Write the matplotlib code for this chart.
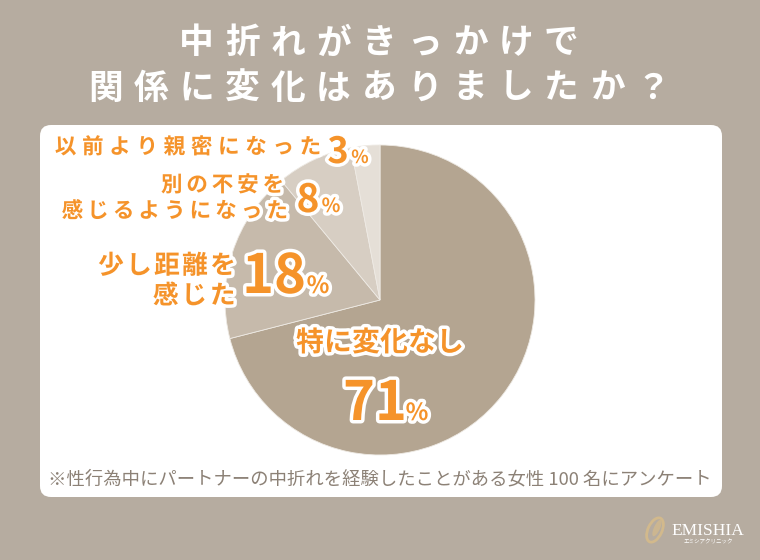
import matplotlib
matplotlib.use('Agg')
import matplotlib.pyplot as plt
import matplotlib.patheffects as pe
from matplotlib.patches import FancyBboxPatch, Ellipse

plt.rcParams['font.family'] = ['Noto Sans CJK JP', 'DejaVu Sans']

# Data
title_lines = ['中折れがきっかけで', '関係に変化はありましたか？']
categories = ['特に変化なし', '少し距離を感じた', '別の不安を感じるようになった', '以前より親密になった']
values = [71, 18, 8, 3]
slice_colors = ['#b4a591', '#c6baab', '#d7cec3', '#e5dfd7']
note = '※性行為中にパートナーの中折れを経験したことがある女性 100 名にアンケート'

BG = '#b6aca0'
ORANGE = '#f5932a'
W, H = 760, 560

fig = plt.figure(figsize=(7.6, 5.6), dpi=100)
fig.patch.set_facecolor(BG)
ax = fig.add_axes([0, 0, 1, 1])
ax.set_axis_off()


def Y(py):
    return H - py


def spaced(text, x_left, y, pitch, **kw):
    for i, ch in enumerate(text):
        ax.text(x_left + pitch / 2 + i * pitch, Y(y), ch, ha='center', va='center', **kw)


outline = [pe.withStroke(linewidth=5, foreground='white')]

# white panel
ax.add_patch(FancyBboxPatch((40, Y(497)), 682, 372, boxstyle='round,pad=0,rounding_size=11',
                            facecolor='white', edgecolor='none', zorder=0))

# pie
ax.pie(values, colors=slice_colors, startangle=90, counterclock=False,
       center=(380, Y(300)), radius=155,
       wedgeprops=dict(linewidth=0.6, edgecolor='#eeeae4'))
ax.set_xlim(0, W)
ax.set_ylim(0, H)
ax.set_aspect('auto')

# title
pitch_t = 45.6
for line, yy in zip(title_lines, [43, 88]):
    n = len(line)
    spaced(line, 379 - n * pitch_t / 2, yy, pitch_t, color='white', fontsize=25, fontweight='bold')

lab_kw = dict(color=ORANGE, fontweight='bold', path_effects=outline)

# label: 以前より親密になった 3%
spaced(categories[3], 324 - 10 * 27.2, 147, 27.2, fontsize=15.5, **lab_kw)
ax.text(338, Y(163), f'{values[3]}', ha='center', va='baseline', fontsize=26, **lab_kw)
ax.text(360, Y(163), '%', ha='center', va='baseline', fontsize=13, **lab_kw)

# label: 別の不安を感じるようになった 8%
spaced('別の不安を', 286 - 5 * 25.4, 185, 25.4, fontsize=15.5, **lab_kw)
spaced('感じるようになった', 290 - 9 * 25.6, 211, 25.6, fontsize=15.5, **lab_kw)
ax.text(308, Y(212), f'{values[2]}', ha='center', va='baseline', fontsize=28, **lab_kw)
ax.text(331, Y(212), '%', ha='center', va='baseline', fontsize=14, **lab_kw)

# label: 少し距離を感じた 18%
spaced('少し距離を', 237 - 5 * 28, 266, 28, fontsize=18.5, **lab_kw)
spaced('感じた', 237 - 3 * 28.5, 296, 28.5, fontsize=18.5, **lab_kw)
ax.text(274, Y(293), f'{values[1]}', ha='center', va='baseline', fontsize=39, **lab_kw)
ax.text(318, Y(293), '%', ha='center', va='baseline', fontsize=17, **lab_kw)

# label: 特に変化なし 71%
spaced(categories[0], 380 - 6 * 28 / 2, 343, 28, fontsize=20, **lab_kw)
ax.text(375, Y(420), f'{values[0]}', ha='center', va='baseline', fontsize=39, **lab_kw)
ax.text(417, Y(420), '%', ha='center', va='baseline', fontsize=17, **lab_kw)

# footnote
ax.text(380, Y(479), note, ha='center', va='center', fontsize=13.2, color='#8c8176')

# logo
ax.add_patch(Ellipse((655, Y(530)), 14, 26, angle=-25, facecolor='none', edgecolor='#d2b98c', linewidth=2))
ax.add_patch(Ellipse((657, Y(528)), 6, 18, angle=-25, facecolor='#d2b98c', edgecolor='none', alpha=0.8))
ax.text(708, Y(531), 'EMISHIA', ha='center', va='center', fontsize=12.5,
        family=['Liberation Serif', 'DejaVu Serif'], color='white')
ax.text(708, Y(542), 'エミシアクリニック', ha='center', va='center', fontsize=4, color='white')

fig.savefig('out.png', dpi=100, facecolor=BG)
